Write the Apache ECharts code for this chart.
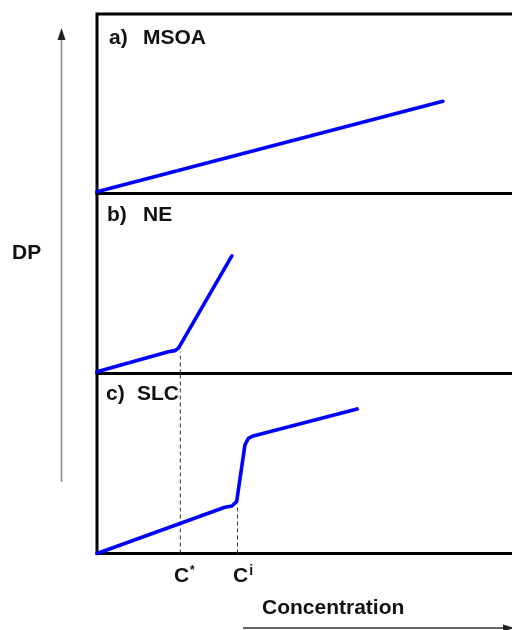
<!DOCTYPE html>
<html>
<head>
<meta charset="utf-8">
<script src="https://cdn.jsdelivr.net/npm/echarts@6/dist/echarts.min.js"></script>
<style>html,body{margin:0;padding:0;background:#fff}#c{width:512px;height:630px}</style>
</head>
<body>
<div id="c"></div>
<script>
// Panel curves (x: concentration, y: DP, arbitrary units 0-100)
const msoaX = [0, 79.5];
const msoaY = [1, 51.4];
const neX = [0, 16.4, 17.9, 18.7, 31.0];
const neY = [1, 12.1, 12.7, 14.0, 65.4];
const slcX = [0, 29.4, 31.0, 32.1, 34.0, 34.8, 35.9, 59.8];
const slcY = [0, 25.7, 26.4, 28.8, 60.3, 64.0, 65.3, 80.3];
// Critical concentrations
const criticalX = [19.15, 32.3];
const criticalSup = ['*', 'i'];
const criticalTopNE = [12, null];
const criticalTopSLC = [100, 26];
const panelLetters = ['a)', 'b)', 'c)'];
const panelNames = ['MSOA', 'NE', 'SLC'];
const yAxisName = 'DP';
const xAxisName = 'Concentration';

const FONT = 'Liberation Sans, Arial, sans-serif';
const chart = echarts.init(document.getElementById('c'), null, {renderer: 'canvas'});

const pair = (xs, ys) => xs.map((x, i) => [x, ys[i]]);
const gridDefs = [
  {top: 14, height: 179.5},
  {top: 193.5, height: 180},
  {top: 373.5, height: 180}
];
const grids = gridDefs.map(g => ({
  left: 97, width: 435, top: g.top, height: g.height,
  show: true, borderWidth: 3, borderColor: '#000', backgroundColor: 'transparent',
  containLabel: false, outerBoundsMode: 'none'
}));
const xAxes = gridDefs.map((g, i) => ({
  type: 'value', gridIndex: i, min: 0, max: 100,
  axisLine: {show: false}, axisTick: {show: false}, splitLine: {show: false},
  axisLabel: i === 2 ? {
    show: true, customValues: criticalX, margin: 11,
    formatter: v => {
      const k = criticalX.indexOf(v);
      return '{c' + k + '|C}{s' + k + '|' + criticalSup[k] + '}';
    },
    rich: {
      c0: {fontFamily: FONT, fontWeight: 'bold', fontSize: 21, color: '#111', lineHeight: 24, padding: [0, 0, 0, 8]},
      c1: {fontFamily: FONT, fontWeight: 'bold', fontSize: 21, color: '#111', lineHeight: 24, padding: [0, 0, 0, 11]},
      s0: {fontFamily: FONT, fontWeight: 'bold', fontSize: 12, color: '#111', verticalAlign: 'top', lineHeight: 24, padding: [0, 0, 0, 1]},
      s1: {fontFamily: FONT, fontWeight: 'bold', fontSize: 14, color: '#111', verticalAlign: 'top', lineHeight: 24, padding: [0, 0, 0, 1]}
    }
  } : {show: false}
}));
const yAxes = gridDefs.map((g, i) => ({
  type: 'value', gridIndex: i, min: 0, max: 100,
  axisLine: {show: false}, axisTick: {show: false}, splitLine: {show: false}, axisLabel: {show: false}
}));

const blue = {color: '#0000ff', width: 3.6, cap: 'round', join: 'round'};
const dash = {color: '#333', width: 1, type: [4, 3]};
const series = [
  {type: 'line', xAxisIndex: 0, yAxisIndex: 0, data: pair(msoaX, msoaY), symbol: 'none', lineStyle: blue, silent: true, clip: false},
  {type: 'line', xAxisIndex: 1, yAxisIndex: 1, data: pair(neX, neY), symbol: 'none', lineStyle: blue, silent: true, clip: false},
  {type: 'line', xAxisIndex: 2, yAxisIndex: 2, data: pair(slcX, slcY), symbol: 'none', lineStyle: blue, silent: true, clip: false}
];
criticalX.forEach((x, k) => {
  if (criticalTopNE[k] != null) {
    series.push({type: 'line', xAxisIndex: 1, yAxisIndex: 1, data: [[x, 0], [x, criticalTopNE[k]]], symbol: 'none', lineStyle: dash, silent: true, z: 1});
  }
  if (criticalTopSLC[k] != null) {
    series.push({type: 'line', xAxisIndex: 2, yAxisIndex: 2, data: [[x, 0], [x, criticalTopSLC[k]]], symbol: 'none', lineStyle: dash, silent: true, z: 1});
  }
});

const labelTop = [39.5, 217, 395.5];
const nameLeft = [143, 143, 137];
const letterLeft = [109, 107, 106];
const graphic = [];
panelLetters.forEach((t, i) => {
  graphic.push({type: 'text', left: letterLeft[i], top: labelTop[i] - 12, style: {text: t, font: 'bold 21px ' + FONT, fill: '#111'}});
  graphic.push({type: 'text', left: nameLeft[i], top: labelTop[i] - 12, style: {text: panelNames[i], font: 'bold 21px ' + FONT, fill: '#111'}});
});
graphic.push({type: 'text', left: 12, top: 255 - 12, style: {text: yAxisName, font: 'bold 21px ' + FONT, fill: '#111'}});
graphic.push({type: 'text', left: 262, top: 609.5 - 12, style: {text: xAxisName, font: 'bold 21px ' + FONT, fill: '#111'}});
// arrows
graphic.push({type: 'line', shape: {x1: 61.5, y1: 482, x2: 61.5, y2: 38}, style: {stroke: '#888', lineWidth: 1.5}});
graphic.push({type: 'polygon', shape: {points: [[61.5, 28], [57.5, 40], [65.5, 40]]}, style: {fill: '#222'}});
graphic.push({type: 'line', shape: {x1: 243, y1: 628, x2: 505, y2: 628}, style: {stroke: '#333', lineWidth: 1.5}});
graphic.push({type: 'polygon', shape: {points: [[514, 628], [503, 624.5], [503, 631.5]]}, style: {fill: '#222'}});

chart.setOption({
  animation: false,
  backgroundColor: '#fff',
  grid: grids, xAxis: xAxes, yAxis: yAxes, series, graphic
});
</script>
</body>
</html>
